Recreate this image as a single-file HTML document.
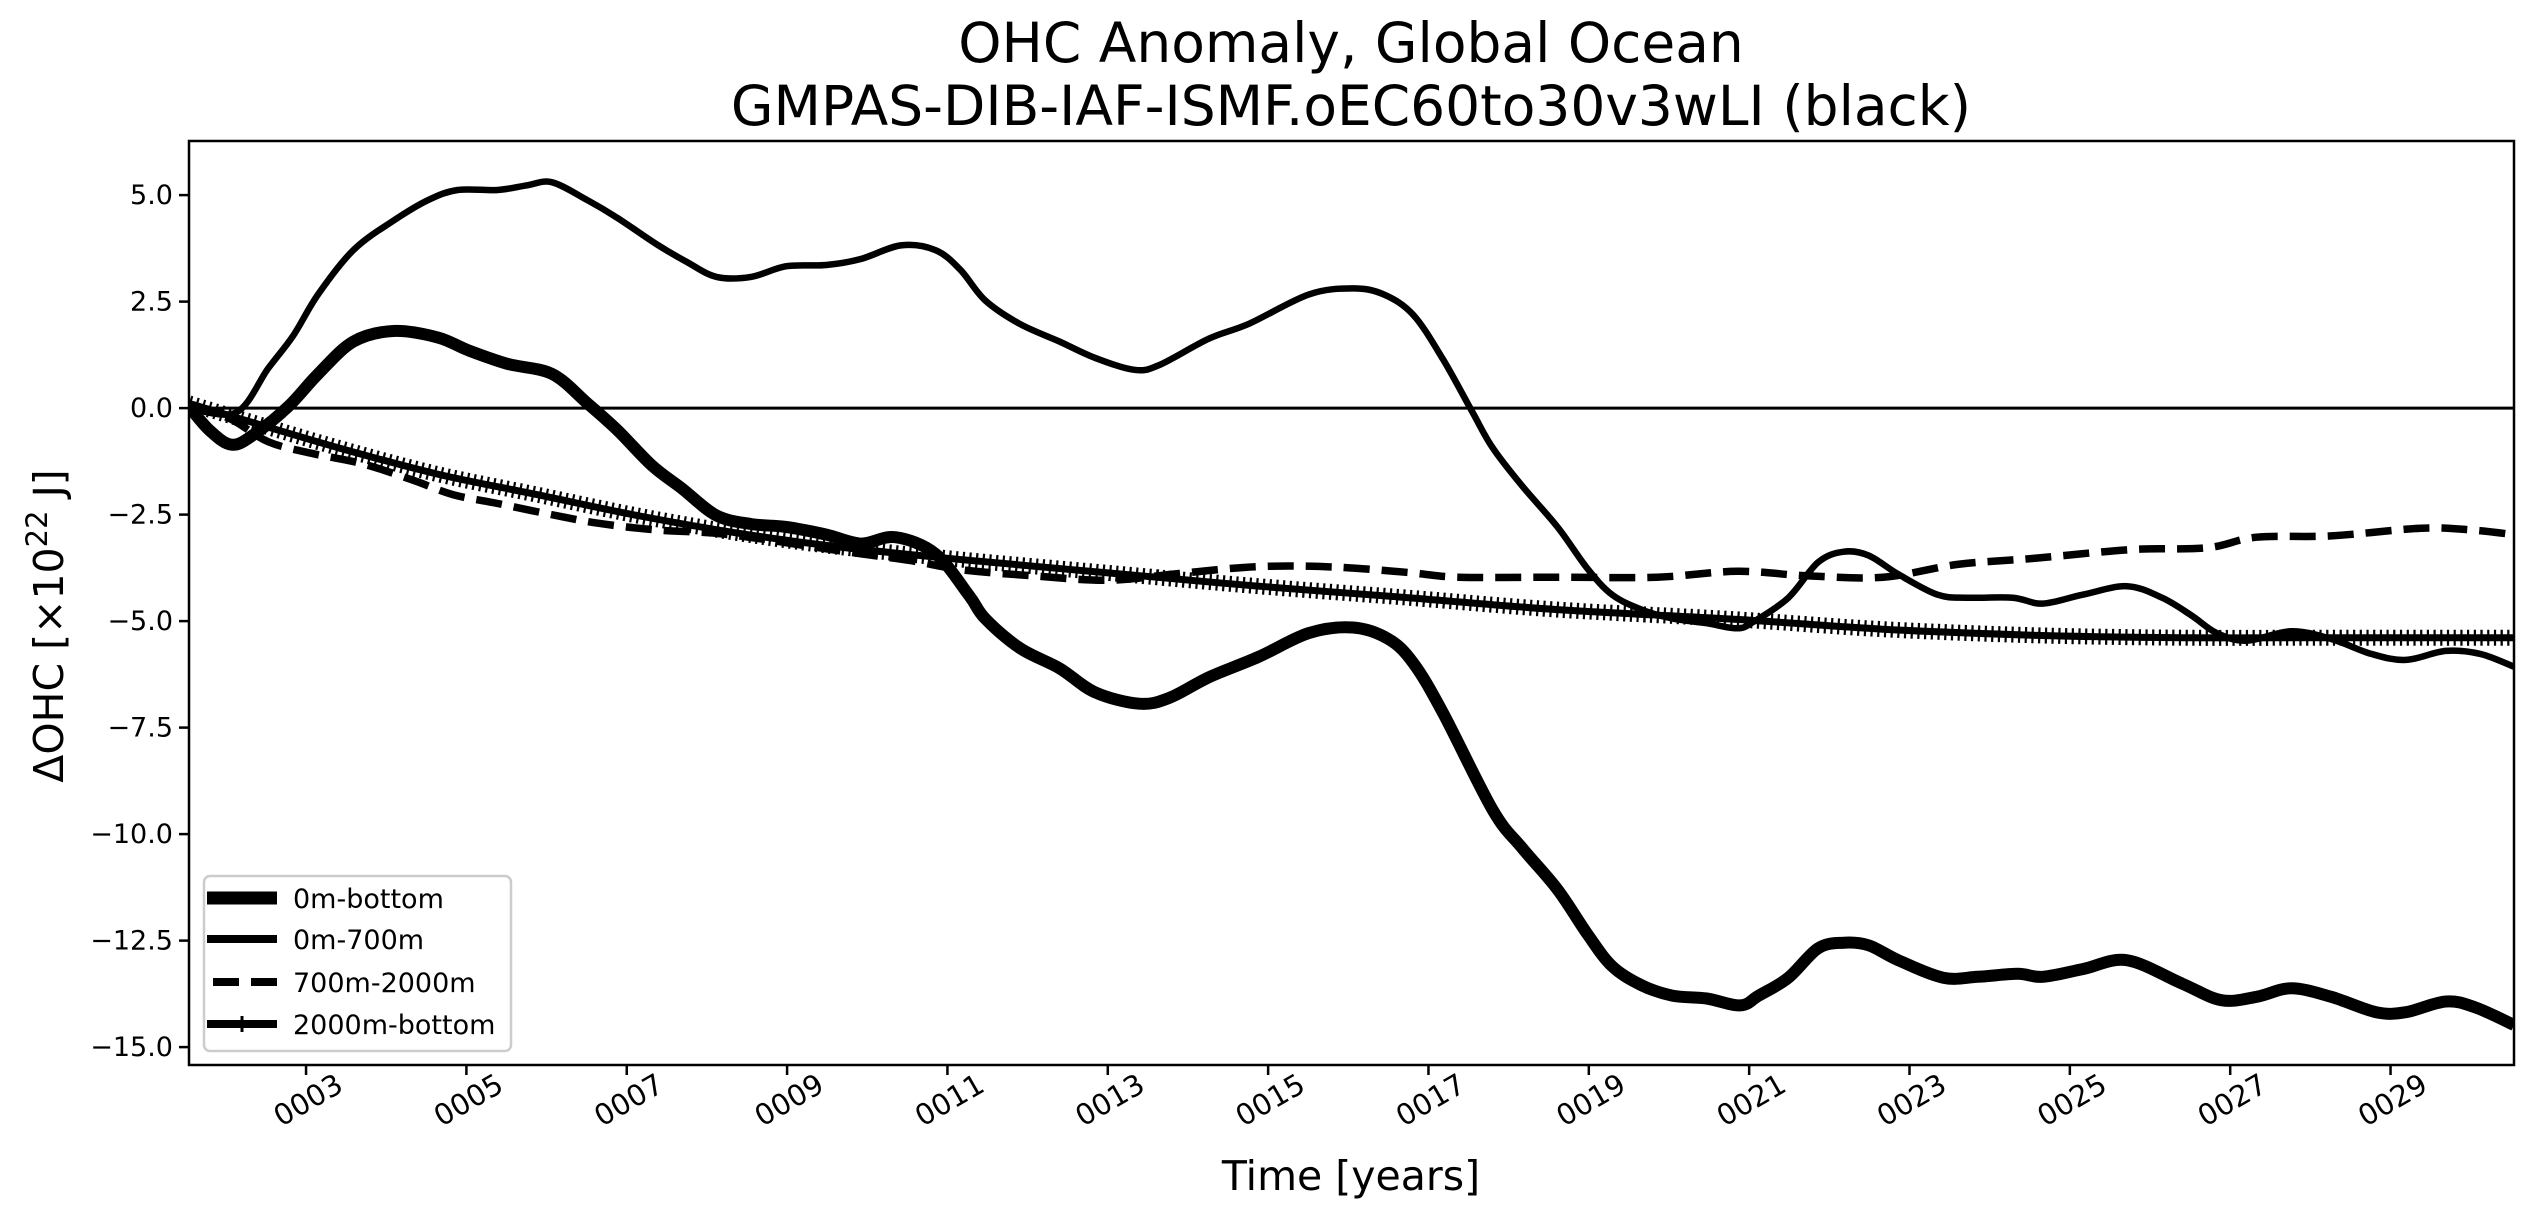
<!DOCTYPE html>
<html><head><meta charset="utf-8"><style>
html,body{margin:0;padding:0;background:#fff;}
svg{display:block;font-family:"DejaVu Sans","Liberation Sans",sans-serif;}
</style></head><body>
<svg id="chart" width="2534" height="1218" viewBox="0 0 2534 1218" xmlns="http://www.w3.org/2000/svg">
<rect width="2534" height="1218" fill="#fff"/>
<text x="1351" y="62" font-size="55" text-anchor="middle">OHC Anomaly, Global Ocean</text>
<text x="1351" y="125" font-size="55" text-anchor="middle">GMPAS-DIB-IAF-ISMF.oEC60to30v3wLI (black)</text>
<g id="plot"></g>
<text x="1351" y="1190" font-size="41" text-anchor="middle">Time [years]</text>
<text transform="translate(63,626) rotate(-90)" font-size="41" text-anchor="middle">ΔOHC [×10<tspan font-size="29" dy="-16">22</tspan><tspan dy="16"> J]</tspan></text>
</svg>
<script>
const xTickYears=[3,5,7,9,11,13,15,17,19,21,23,25,27,29];
const xTickLabels=["0003","0005","0007","0009","0011","0013","0015","0017","0019","0021","0023","0025","0027","0029"];
const yTicks=[5,2.5,0,-2.5,-5,-7.5,-10,-12.5,-15];
const yTickLabels=["5.0","2.5","0.0","\u22122.5","\u22125.0","\u22127.5","\u221210.0","\u221212.5","\u221215.0"];
const seriesNames=["0m-bottom","0m-700m","700m-2000m","2000m-bottom"];
const yrBottom=[1.54,1.79,2.07,2.35,2.78,3.15,3.59,4.09,4.64,5.02,5.51,6.07,6.51,6.88,7.31,7.69,8.12,8.55,8.99,9.49,9.92,10.35,10.85,11.27,11.47,11.90,12.40,12.84,13.39,13.77,14.26,14.88,15.51,16.06,16.50,16.81,17.18,17.80,18.17,18.61,18.98,19.29,19.66,20.04,20.47,20.89,21.12,21.49,21.86,22.18,22.49,22.86,23.42,23.85,24.35,24.66,25.16,25.71,26.40,26.89,27.33,27.76,28.26,28.82,29.19,29.69,30.06,30.54];
const valBottom=[0.04,-0.51,-0.86,-0.62,0.04,0.80,1.56,1.81,1.66,1.36,1.04,0.80,0.11,-0.51,-1.34,-1.89,-2.52,-2.72,-2.79,-2.97,-3.18,-3.03,-3.42,-4.40,-4.94,-5.63,-6.11,-6.67,-6.94,-6.80,-6.32,-5.84,-5.28,-5.15,-5.42,-5.98,-7.15,-9.43,-10.33,-11.30,-12.34,-13.10,-13.55,-13.79,-13.86,-14.02,-13.79,-13.37,-12.68,-12.55,-12.61,-12.96,-13.37,-13.35,-13.28,-13.35,-13.17,-12.96,-13.51,-13.90,-13.82,-13.62,-13.82,-14.18,-14.18,-13.93,-14.07,-14.48];
const yr700=[1.54,2.13,2.53,2.84,3.15,3.59,4.09,4.52,4.89,5.39,5.76,6.07,6.51,6.88,7.37,7.75,8.12,8.55,8.99,9.49,9.92,10.42,10.85,11.16,11.47,11.90,12.40,12.84,13.33,13.64,14.26,14.76,15.51,16.06,16.44,16.81,17.18,17.55,17.80,18.17,18.61,18.98,19.29,19.66,20.04,20.47,20.85,21.06,21.49,21.86,22.18,22.49,22.86,23.35,23.73,24.29,24.66,25.16,25.71,26.15,26.52,26.83,27.20,27.76,28.26,28.76,29.19,29.69,30.12,30.54];
const val700=[0,-0.1,0.94,1.70,2.67,3.71,4.40,4.88,5.12,5.12,5.23,5.30,4.88,4.47,3.85,3.43,3.08,3.08,3.33,3.36,3.50,3.82,3.71,3.25,2.53,1.98,1.56,1.18,0.90,1.01,1.63,1.98,2.67,2.81,2.67,2.19,1.15,-0.1,-0.93,-1.83,-2.79,-3.76,-4.38,-4.73,-4.94,-5.05,-5.17,-5.01,-4.45,-3.62,-3.37,-3.46,-3.90,-4.38,-4.45,-4.45,-4.59,-4.38,-4.18,-4.45,-4.87,-5.28,-5.46,-5.24,-5.42,-5.77,-5.91,-5.70,-5.77,-6.07];
const yr2000=[1.54,2.04,2.53,3.09,3.71,4.33,4.83,5.39,6.01,6.63,7.37,8.06,8.68,9.30,9.92,10.54,11.20,12.09,13.02,13.95,14.88,15.81,16.75,17.37,18.61,19.85,20.85,21.74,22.67,23.60,24.53,25.78,26.71,27.33,28.26,29.38,30.0,30.54];
const val2000=[0.04,-0.24,-0.79,-1.07,-1.31,-1.69,-2.03,-2.24,-2.48,-2.70,-2.86,-2.93,-3.07,-3.25,-3.42,-3.58,-3.80,-3.94,-4.04,-3.87,-3.72,-3.73,-3.86,-3.97,-3.97,-3.97,-3.83,-3.94,-3.97,-3.67,-3.53,-3.32,-3.28,-3.03,-3.00,-2.82,-2.86,-2.97];
const yrDeep=[1.54,2.16,3.40,4.64,5.88,7.13,8.37,9.61,11.20,13.02,14.88,16.75,18.61,20.85,22.67,24.53,26.40,28.26,30.54];
const valDeep=[0.11,-0.24,-0.93,-1.55,-2.03,-2.52,-2.93,-3.25,-3.56,-3.87,-4.18,-4.45,-4.73,-4.96,-5.19,-5.33,-5.39,-5.39,-5.39];

const L=189,R=2514,T=141,B=1065,X0=1.54,X1=30.54,Y0=-15.42,Y1=6.27;
const sx=v=>L+(v-X0)/(X1-X0)*(R-L);
const sy=v=>B-(v-Y0)/(Y1-Y0)*(B-T);
const NS="http://www.w3.org/2000/svg";
const plot=document.getElementById('plot');
function mk(tag,attrs,parent){const e=document.createElementNS(NS,tag);for(const k in attrs)e.setAttribute(k,attrs[k]);(parent||plot).appendChild(e);return e;}
function pathD(xs,ys){
  const p=xs.map((x,i)=>[sx(x),sy(ys[i])]);
  let d='M'+p[0][0].toFixed(1)+','+p[0][1].toFixed(1);
  for(let i=0;i<p.length-1;i++){
    const p0=p[i-1]||p[i],p1=p[i],p2=p[i+1],p3=p[i+2]||p2;
    const c1x=p1[0]+(p2[0]-p0[0])/6,c1y=p1[1]+(p2[1]-p0[1])/6;
    const c2x=p2[0]-(p3[0]-p1[0])/6,c2y=p2[1]-(p3[1]-p1[1])/6;
    d+=' C'+c1x.toFixed(1)+','+c1y.toFixed(1)+' '+c2x.toFixed(1)+','+c2y.toFixed(1)+' '+p2[0].toFixed(1)+','+p2[1].toFixed(1);
  }
  return d;
}
const cp=mk('clipPath',{id:'clip'});
mk('rect',{x:L,y:T,width:R-L,height:B-T},cp);
const g=mk('g',{'clip-path':'url(#clip)'});
const zl=mk('line',{x1:L,x2:R,y1:sy(0),y2:sy(0),stroke:'#000','stroke-width':3},g);


const sDeep=mk('path',{d:pathD(yrDeep,valDeep),fill:'none',stroke:'#000','stroke-width':7},g);


const sDeepM=mk('path',{d:pathD(yrDeep,valDeep),fill:'none',stroke:'#000','stroke-width':16,'stroke-dasharray':'2.2 4.5'},g);


const s2000=mk('path',{d:pathD(yr2000,val2000),fill:'none',stroke:'#000','stroke-width':7.5,'stroke-dasharray':'26 12'},g);


const s700=mk('path',{d:pathD(yr700,val700),fill:'none',stroke:'#000','stroke-width':6.5,'stroke-linejoin':'round'},g);


const sBot=mk('path',{d:pathD(yrBottom,valBottom),fill:'none',stroke:'#000','stroke-width':12,'stroke-linejoin':'round'},g);


const frame=mk('rect',{x:L,y:T,width:R-L,height:B-T,fill:'none',stroke:'#000','stroke-width':2.5});


yTicks.forEach((v,i)=>{
  const t=mk('line',{x1:L-10,x2:L,y1:sy(v),y2:sy(v),stroke:'#000','stroke-width':2.5});
  
  
  const tx=mk('text',{x:L-16,y:sy(v)+9,'font-size':27,'text-anchor':'end'});
  tx.textContent=yTickLabels[i];
  
  
});
xTickYears.forEach((v,i)=>{
  const x=sx(v);
  const t=mk('line',{x1:x,x2:x,y1:B,y2:B+10,stroke:'#000','stroke-width':2.5});
  
  
  const tx=mk('text',{transform:'translate('+(x+2)+','+(B+35)+') rotate(-30)','font-size':29,'text-anchor':'middle',y:10});
  tx.textContent=xTickLabels[i];
  
  
});
const lg=mk('g',{});


mk('rect',{x:204,y:876,width:307,height:175,rx:6,fill:'#fff','fill-opacity':0.8,stroke:'#ccc','stroke-width':2.5},lg);
const ly=[898,939,982,1024];
const lw=[13,8,8,8];
seriesNames.forEach((n,i)=>{
  const e=mk('g',{},lg);
  
  
  const a={x1:207,x2:277,y1:ly[i],y2:ly[i],stroke:'#000','stroke-width':lw[i]};
  if(i===2){a.x1=213;a['stroke-dasharray']='26 12';}
  mk('line',a,e);
  if(i===3)mk('line',{x1:242,x2:242,y1:ly[i]-8,y2:ly[i]+8,stroke:'#000','stroke-width':3},e);
  const t=mk('text',{x:293,y:ly[i]+10,'font-size':27},e);
  t.textContent=n;
});
</script>
</body></html>
